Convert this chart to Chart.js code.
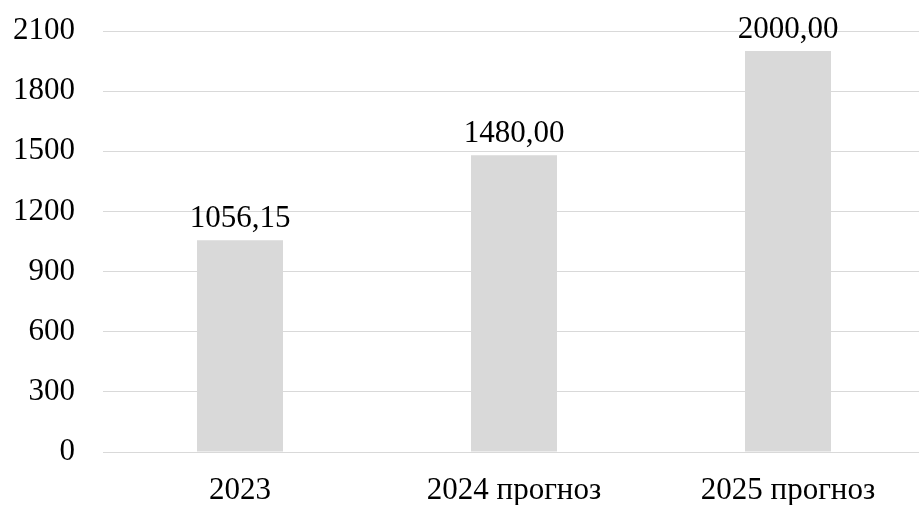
<!DOCTYPE html>
<html>
<head>
<meta charset="utf-8">
<script src="https://cdn.jsdelivr.net/npm/chart.js@4"></script>
<style>
  html, body { margin: 0; padding: 0; background: #fff; overflow: hidden; }
  #wrap { width: 925px; height: 505px; }
</style>
</head>
<body>
<div id="wrap"><canvas id="chart" width="925" height="505"></canvas></div>
<script>
// данные
const categories = ['2023', '2024 прогноз', '2025 прогноз'];
const values = [1056.15, 1480.00, 2000.00];
const yTicks = [0, 300, 600, 900, 1200, 1500, 1800, 2100];

const FONT = "'Liberation Serif', 'Times New Roman', serif";

// подписи значений над столбцами
const valueLabels = {
  id: 'valueLabels',
  afterDatasetsDraw(chart) {
    const ctx = chart.ctx;
    const meta = chart.getDatasetMeta(0);
    ctx.save();
    ctx.font = '31px ' + FONT;
    ctx.fillStyle = '#000';
    ctx.textAlign = 'center';
    ctx.textBaseline = 'alphabetic';
    meta.data.forEach((bar, i) => {
      const txt = values[i].toFixed(2).replace('.', ',');
      ctx.fillText(txt, bar.x, bar.y - 13);
    });
    ctx.restore();
  }
};

new Chart(document.getElementById('chart'), {
  type: 'bar',
  data: {
    labels: categories,
    datasets: [{
      data: values,
      backgroundColor: '#d9d9d9',
      borderWidth: 0,
      barPercentage: 0.314,
      categoryPercentage: 1
    }]
  },
  options: {
    responsive: false,
    animation: false,
    layout: { padding: { top: 31, right: 0, left: 0, bottom: 0 } },
    plugins: { legend: { display: false }, tooltip: { enabled: false } },
    scales: {
      x: {
        grid: { display: false },
        border: { display: false },
        ticks: { color: '#000', font: { family: FONT, size: 31 }, padding: 12, maxRotation: 0 },
        afterFit(scale) { scale.height = 53; scale.paddingLeft = 0; scale.paddingRight = 0; }
      },
      y: {
        min: 0,
        max: 2100,
        afterBuildTicks(scale) { scale.ticks = yTicks.map(v => ({ value: v })); },
        grid: { color: '#d9d9d9', lineWidth: 1, drawTicks: false },
        border: { display: false },
        ticks: {
          color: '#000',
          font: { family: FONT, size: 31 },
          padding: 28,
          callback: v => String(v)
        },
        afterFit(scale) { scale.width = 103; scale.paddingTop = 0; scale.paddingBottom = 0; }
      }
    }
  },
  plugins: [valueLabels]
});
</script>
</body>
</html>
